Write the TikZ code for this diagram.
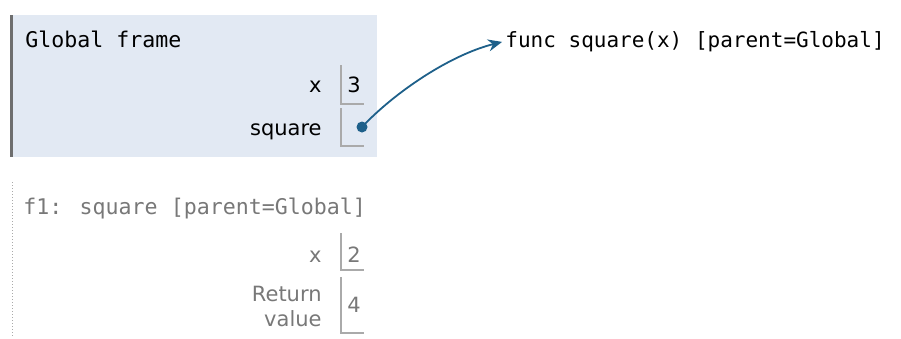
\documentclass[tikz,border=0pt]{standalone}
\usepackage{fontspec}
\usetikzlibrary{arrows.meta}
\newfontfamily\codefont{DejaVu Sans Mono}
\newfontfamily\namefont{DejaVu Sans}
\definecolor{framebg}{RGB}{226,233,243}
\definecolor{framebar}{RGB}{110,110,110}
\definecolor{boxline}{RGB}{170,170,170}
\definecolor{pointer}{RGB}{30,96,138}
\definecolor{inactive}{RGB}{120,120,120}

\begin{document}
\begin{tikzpicture}[x=0.5pt, y=-0.5pt,
    code/.style={anchor=base west, inner sep=0pt, font=\codefont\fontsize{10.8}{12}\selectfont},
    varname/.style={anchor=base east, inner sep=0pt, font=\namefont\fontsize{10.5}{12}\selectfont},
    varval/.style={anchor=base, inner sep=0pt, font=\namefont\fontsize{10.5}{12}\selectfont},
    slot/.style={draw=boxline, line width=0.75pt},
    ptr/.style={draw=pointer, line width=0.9pt, -{Stealth[length=7pt, width=6pt]}}]
    \useasboundingbox (0, 0) rectangle (901, 338);

    \fill[framebg] (10, 15) rectangle (377, 157);
    \draw[framebar, line width=1.5pt] (11.5, 15) -- (11.5, 157);
    \node[code] (gtitle) at (25, 47) {Global frame};

    \node[varname] (gxname) at (322, 92) {x};
    \draw[slot] (341, 65) -- (341, 104) -- (364, 104);
    \node[varval] (gxval) at (354, 92) {3};

    \node[varname] (gsqname) at (322, 135) {square};
    \draw[slot] (341, 108) -- (341, 146) -- (364, 146);
    \node[circle, fill=pointer, inner sep=0pt, minimum size=5.5pt] (sqdot) at (362, 127) {};

    \node[code, font=\codefont\fontsize{10.5}{12}\selectfont] (func) at (505, 47) {func square(x) [parent=Global]};
    \draw[ptr, shorten >=1.5pt] (sqdot.center) .. controls (395, 92) and (450, 55) .. (func.west);

    \draw[boxline, densely dotted, line width=0.5pt] (12, 182) -- (12, 338);
    \node[code, text=inactive] (ftitle) at (23, 214) {f1: square [parent=Global]};

    \node[varname, text=inactive] (fxname) at (322, 262) {x};
    \draw[slot] (341, 233) -- (341, 270) -- (364, 270);
    \node[varval, text=inactive] (fxval) at (354, 262) {2};

    \node[varname, text=inactive] (retname) at (322, 301) {Return};
    \node[varname, text=inactive] (retname2) at (322, 326) {value};
    \draw[slot] (341, 277) -- (341, 333) -- (364, 333);
    \node[varval, text=inactive] (retval) at (354, 312) {4};
\end{tikzpicture}
\end{document}
